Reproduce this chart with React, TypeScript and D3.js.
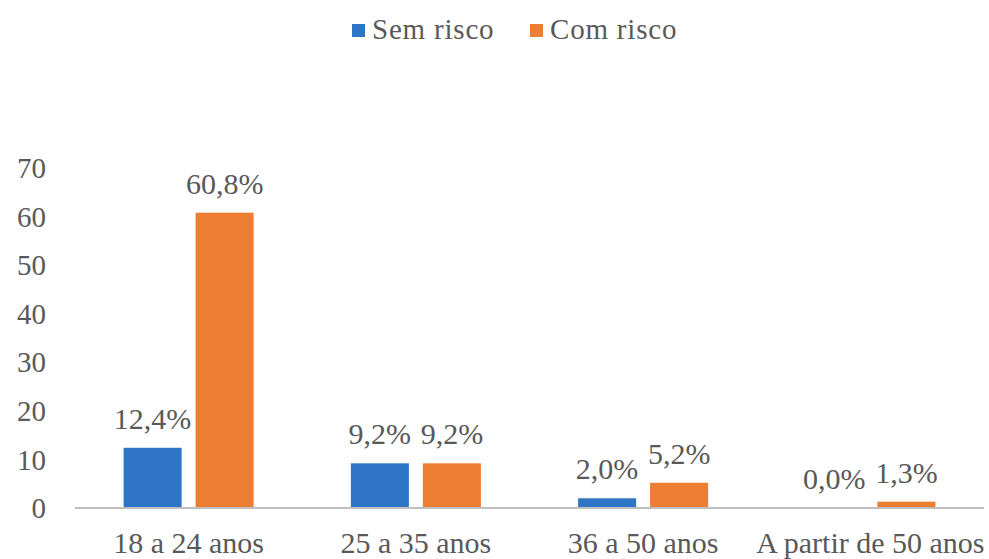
import React from "react";
import * as d3 from "d3";

const categories = ["18 a 24 anos", "25 a 35 anos", "36 a 50 anos", "A partir de 50 anos"];
const seriesNames = ["Sem risco", "Com risco"];
const semRisco = [12.4, 9.2, 2.0, 0.0];
const comRisco = [60.8, 9.2, 5.2, 1.3];
const valueLabels = [
  ["12,4%", "9,2%", "2,0%", "0,0%"],
  ["60,8%", "9,2%", "5,2%", "1,3%"],
];
const yTicks = [0, 10, 20, 30, 40, 50, 60, 70];
const colors = ["#2E75C6", "#ED7D31"];

const W = 989;
const H = 559;
const FONT = "Liberation Serif, DejaVu Serif, serif";
const TEXT = "#595959";

export default function App() {
  const x0 = d3.scaleBand<string>().domain(categories).range([75, 984]).paddingInner(0).paddingOuter(0);
  const x1 = d3
    .scaleBand<string>()
    .domain(seriesNames)
    .range([0, x0.bandwidth()])
    .paddingInner(0.194)
    .paddingOuter(0.675);
  const y = d3.scaleLinear().domain([0, 70]).range([508, 168]);
  const seriesValues = [semRisco, comRisco];
  const txt = (size: number, extra: React.CSSProperties = {}): React.CSSProperties => ({
    fontFamily: FONT,
    fontSize: size,
    fill: TEXT,
    ...extra,
  });

  return (
    <div style={{ position: "absolute", left: 0, top: 0 }}>
      <svg width={W} height={H} style={{ display: "block", background: "#fff" }}>
        {/* legend */}
        <g style={txt(29, { letterSpacing: "0.8px" })}>
          <rect x={352} y={24} width={13} height={13} fill={colors[0]} />
          <text x={372} y={39}>{seriesNames[0]}</text>
          <rect x={530} y={24} width={13} height={13} fill={colors[1]} />
          <text x={550} y={39}>{seriesNames[1]}</text>
        </g>

        {/* y axis tick labels */}
        <g style={txt(29)} textAnchor="end">
          {yTicks.map((t) => (
            <text key={t} x={46} y={y(t)} dy="0.35em">
              {t}
            </text>
          ))}
        </g>

        {/* bars */}
        {categories.map((c, ci) => (
          <g key={c} transform={`translate(${x0(c)},0)`}>
            {seriesNames.map((s, si) => {
              const v = seriesValues[si][ci];
              const bx = x1(s)!;
              const bw = x1.bandwidth();
              return (
                <g key={s}>
                  <rect x={bx} y={y(v)} width={bw} height={y(0) - y(v)} fill={colors[si]} />
                  <text x={bx + bw / 2} y={y(v) - 19} textAnchor="middle" style={txt(30)}>
                    {valueLabels[si][ci]}
                  </text>
                </g>
              );
            })}
          </g>
        ))}

        {/* x axis line */}
        <line x1={75} x2={984} y1={y(0)} y2={y(0)} stroke="#BFBFBF" strokeWidth={2} />

        {/* x labels */}
        <g style={txt(30)} textAnchor="middle">
          {categories.map((c) => (
            <text key={c} x={x0(c)! + x0.bandwidth() / 2} y={553}>
              {c}
            </text>
          ))}
        </g>
      </svg>
    </div>
  );
}
